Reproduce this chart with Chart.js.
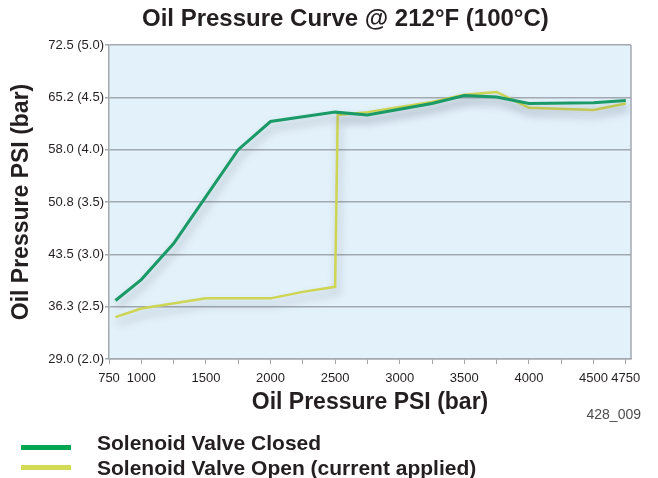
<!DOCTYPE html>
<html>
<head>
<meta charset="utf-8">
<script src="https://cdn.jsdelivr.net/npm/chart.js@4"></script>
<style>
  html, body { margin: 0; padding: 0; background: #fff; }
  #wrap { position: relative; width: 658px; height: 478px; font-family: "Liberation Sans", Arial, sans-serif; }
  #oilChart { position: absolute; left: 0; top: 0; }
  #chartTitle { position: absolute; left: 142px; width: 400px; top: 3px; text-align: center; font-weight: bold; font-size: 24px; line-height: 30px; color: #231f20; white-space: nowrap; }
  .legend-row { position: absolute; left: 0; height: 24px; }
  .legend-line { position: absolute; left: 21px; width: 50px; height: 5px; }
  .legend-text { position: absolute; left: 97px; font-weight: bold; font-size: 21px; color: #231f20; white-space: nowrap; line-height: 24px; }
  #figId { position: absolute; right: 17px; top: 406px; font-size: 14px; color: #4d4d4d; }
</style>
</head>
<body>
<div id="wrap">
  <canvas id="oilChart" width="658" height="478"></canvas>
  <div id="chartTitle">Oil Pressure Curve @ 212°F (100°C)</div>
  <div class="legend-row" style="top:431px">
    <div class="legend-line" style="top:14px;background:#00a651"></div>
    <div class="legend-text" style="top:0">Solenoid Valve Closed</div>
  </div>
  <div class="legend-row" style="top:456px">
    <div class="legend-line" style="top:9px;background:#d3da55"></div>
    <div class="legend-text" style="top:0">Solenoid Valve Open (current applied)</div>
  </div>
  <div id="figId">428_009</div>
</div>
<script>
// values (x = engine PSI axis, y = oil pressure PSI)
const closedPsi  = [800, 1000, 1250, 1500, 1750, 2000, 2500, 2750, 3250, 3500, 3750, 4000, 4500, 4750];
const closedVals = [37.1, 40.0, 45.0, 51.5, 58.0, 61.9, 63.2, 62.8, 64.4, 65.5, 65.3, 64.4, 64.5, 64.8];

const openPsi  = [800, 1000, 1500, 2000, 2250, 2500, 2520, 2750, 3250, 3500, 3750, 4000, 4500, 4750];
const openVals = [34.8, 36.0, 37.4, 37.4, 38.3, 39.0, 62.8, 63.2, 64.6, 65.6, 66.0, 63.8, 63.5, 64.4];

const xTickValues = [750, 1000, 1250, 1500, 1750, 2000, 2250, 2500, 2750, 3000, 3250, 3500, 3750, 4000, 4250, 4500, 4750];
const xTickLabels = ['750', '1000', '', '1500', '', '2000', '', '2500', '', '3000', '', '3500', '', '4000', '', '4500', '4750'];

const yTickValues = [29.0, 36.25, 43.5, 50.75, 58.0, 65.25, 72.5];
const yTickLabels = ['29.0 (2.0)', '36.3 (2.5)', '43.5 (3.0)', '50.8 (3.5)', '58.0 (4.0)', '65.2 (4.5)', '72.5 (5.0)'];

function toPoints(xs, ys) {
    return xs.map((x, i) => ({ x: x, y: ys[i] }));
}

const gridGray = '#a2a9b0';

// light blue plot background + frame
const plotBackground = {
    id: 'plotBackground',
    beforeDraw(chart) {
        const { ctx, chartArea: a } = chart;
        ctx.save();
        ctx.fillStyle = '#e3f1fa';
        ctx.fillRect(a.left, a.top, a.right - a.left, a.bottom - a.top);
        ctx.restore();
    },
    afterDraw(chart) {
        const { ctx, chartArea: a } = chart;
        ctx.save();
        ctx.strokeStyle = gridGray;
        ctx.lineWidth = 1.5;
        ctx.beginPath();
        ctx.moveTo(a.right, a.top);
        ctx.lineTo(a.right, a.bottom);
        ctx.stroke();
        ctx.restore();
    }
};

// soft drop shadow under the curves
const lineShadow = {
    id: 'lineShadow',
    beforeDatasetsDraw(chart) {
        const ctx = chart.ctx;
        ctx.save();
        ctx.shadowColor = 'rgba(60, 70, 90, 0.35)';
        ctx.shadowBlur = 8;
        ctx.shadowOffsetX = 2;
        ctx.shadowOffsetY = 6;
    },
    afterDatasetsDraw(chart) {
        chart.ctx.restore();
    }
};

new Chart(document.getElementById('oilChart'), {
    type: 'line',
    data: {
        datasets: [{
            label: 'Solenoid Valve Closed',
            data: toPoints(closedPsi, closedVals),
            borderColor: '#1a9a66',
            borderWidth: 3,
            pointRadius: 0,
            tension: 0
        }, {
            label: 'Solenoid Valve Open (current applied)',
            data: toPoints(openPsi, openVals),
            borderColor: '#cdd552',
            borderWidth: 2.5,
            pointRadius: 0,
            tension: 0
        }]
    },
    options: {
        responsive: false,
        animation: false,
        layout: { padding: { left: 0, right: 27, top: 45, bottom: 49 } },
        plugins: {
            legend: { display: false },
            tooltip: { enabled: false },
            title: { display: false }
        },
        scales: {
            x: {
                type: 'linear',
                min: 750,
                max: 4790,
                afterFit(scale) { scale.height = 70; },
                afterBuildTicks(scale) {
                    scale.ticks = xTickValues.map(v => ({ value: v }));
                },
                ticks: {
                    autoSkip: false,
                    maxRotation: 0,
                    padding: 7,
                    color: '#231f20',
                    font: { family: 'Liberation Sans', size: 13 },
                    callback(value) {
                        const i = xTickValues.indexOf(value);
                        return i >= 0 ? xTickLabels[i] : '';
                    }
                },
                grid: { drawOnChartArea: false, drawTicks: true, tickLength: 5, color: gridGray, lineWidth: 1 },
                border: { display: true, color: gridGray, width: 1.5 },
                title: {
                    display: true,
                    text: 'Oil Pressure PSI (bar)',
                    color: '#231f20',
                    font: { family: 'Liberation Sans', size: 23, weight: 'bold' },
                    padding: { top: 0, bottom: 13 }
                }
            },
            y: {
                type: 'linear',
                min: 29,
                max: 72.5,
                afterFit(scale) { scale.width = 109; },
                afterBuildTicks(scale) {
                    scale.ticks = yTickValues.map(v => ({ value: v }));
                },
                ticks: {
                    padding: 1,
                    color: '#231f20',
                    font: { family: 'Liberation Sans', size: 13 },
                    callback(value) {
                        const i = yTickValues.indexOf(value);
                        return i >= 0 ? yTickLabels[i] : '';
                    }
                },
                grid: { color: gridGray, lineWidth: 1.5, tickLength: 4 },
                border: { display: true, color: gridGray, width: 1.5 },
                title: {
                    display: true,
                    text: 'Oil Pressure PSI (bar)',
                    color: '#231f20',
                    font: { family: 'Liberation Sans', size: 23, weight: 'bold' },
                    padding: { top: 8, bottom: 0 }
                }
            }
        }
    },
    plugins: [plotBackground, lineShadow]
});
</script>
</body>
</html>
